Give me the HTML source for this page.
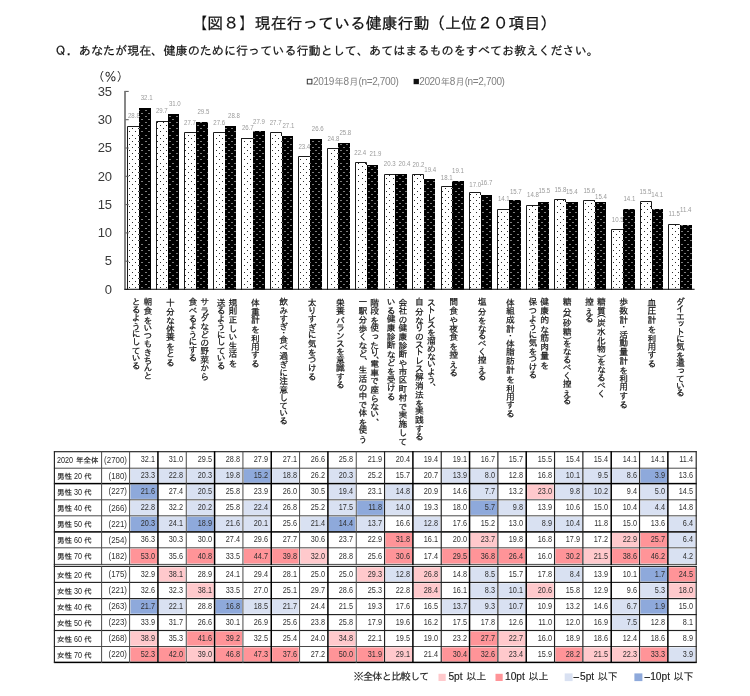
<!DOCTYPE html>
<html lang="ja">
<head>
<meta charset="utf-8">
<title>【図８】現在行っている健康行動（上位２０項目）</title>
<style>
html,body{margin:0;padding:0;background:#fff}
body{width:750px;height:696px;position:relative;overflow:hidden;font-family:"Liberation Sans","IPAGothic",sans-serif;color:#000}
.t{position:absolute;white-space:nowrap;line-height:1;margin:0;padding:0}
svg{position:absolute;left:0;top:0}
svg text{font-family:"Liberation Sans","IPAGothic",sans-serif}
.title{left:0;width:747.6px;text-align:center;top:15.6px;font-size:15.87px;color:#111;-webkit-text-stroke:.25px #111}
.sub{left:54.6px;top:44.7px;font-size:12.1px;color:#111;-webkit-text-stroke:.2px #111}
.pct{left:92.5px;top:71px;font-size:12px;color:#222}
.leg{font-size:9.2px;color:#808080;top:76.6px;line-height:10px}
.leg b{font-weight:normal;font-size:10px;letter-spacing:-.35px}
.leg i{font-style:normal;margin:0 -.1px 0 .6px}
.ax{font-size:13px;color:#3a3a3a;width:20px;text-align:right;left:91.5px;letter-spacing:-.4px}
.xl{position:absolute;writing-mode:vertical-rl;text-orientation:upright;font-size:8.8px;line-height:8.8px;width:8.8px;-webkit-text-stroke:.2px #111;white-space:nowrap;color:#111;top:297.4px}
.xl i{font-style:normal}
.rl{font-size:7.5px;color:#222;left:57.1px;height:9px;line-height:9px;-webkit-text-stroke:.15px #222}
.rl b{font-weight:normal;display:inline-block;font-size:9px;transform:scaleX(.8);vertical-align:top;-webkit-text-stroke:0}
.rn{font-size:9px;color:#333;text-align:right;width:30px;left:97.20px;transform:scaleX(.88);transform-origin:100% 50%}
.c{font-size:9px;color:#303030;text-align:right;width:26px;transform:scaleX(.81);transform-origin:100% 50%}
.n .k{font-size:10px;margin-left:3.6px}
.n .m{display:inline-block;width:6.6px;text-align:center;transform:scaleX(2.1)}
.n{font-size:10.2px;color:#222;top:672.1px;-webkit-text-stroke:.15px #222}

</style>
</head>
<body>
<svg width="750" height="696" viewBox="0 0 750 696">
<defs>
<pattern id="pw" x="129" y="38" width="31" height="81" patternUnits="userSpaceOnUse"><rect width="31" height="81" fill="#fff"/><g fill="#2a2a2a"><rect x="0" y="0" width="1" height="1"/><rect x="3" y="3" width="1" height="1"/><rect x="6" y="0" width="1" height="1"/><rect x="9" y="3" width="1" height="1"/><rect x="12" y="0" width="1" height="1"/><rect x="16" y="3" width="1" height="1"/><rect x="19" y="0" width="1" height="1"/><rect x="22" y="3" width="1" height="1"/><rect x="25" y="0" width="1" height="1"/><rect x="28" y="3" width="1" height="1"/><rect x="0" y="6" width="1" height="1"/><rect x="3" y="9" width="1" height="1"/><rect x="6" y="6" width="1" height="1"/><rect x="9" y="9" width="1" height="1"/><rect x="12" y="6" width="1" height="1"/><rect x="16" y="9" width="1" height="1"/><rect x="19" y="6" width="1" height="1"/><rect x="22" y="9" width="1" height="1"/><rect x="25" y="6" width="1" height="1"/><rect x="28" y="9" width="1" height="1"/><rect x="0" y="12" width="1" height="1"/><rect x="3" y="16" width="1" height="1"/><rect x="6" y="12" width="1" height="1"/><rect x="9" y="16" width="1" height="1"/><rect x="12" y="12" width="1" height="1"/><rect x="16" y="16" width="1" height="1"/><rect x="19" y="12" width="1" height="1"/><rect x="22" y="16" width="1" height="1"/><rect x="25" y="12" width="1" height="1"/><rect x="28" y="16" width="1" height="1"/><rect x="0" y="19" width="1" height="1"/><rect x="3" y="22" width="1" height="1"/><rect x="6" y="19" width="1" height="1"/><rect x="9" y="22" width="1" height="1"/><rect x="12" y="19" width="1" height="1"/><rect x="16" y="22" width="1" height="1"/><rect x="19" y="19" width="1" height="1"/><rect x="22" y="22" width="1" height="1"/><rect x="25" y="19" width="1" height="1"/><rect x="28" y="22" width="1" height="1"/><rect x="0" y="25" width="1" height="1"/><rect x="3" y="28" width="1" height="1"/><rect x="6" y="25" width="1" height="1"/><rect x="9" y="28" width="1" height="1"/><rect x="12" y="25" width="1" height="1"/><rect x="16" y="28" width="1" height="1"/><rect x="19" y="25" width="1" height="1"/><rect x="22" y="28" width="1" height="1"/><rect x="25" y="25" width="1" height="1"/><rect x="28" y="28" width="1" height="1"/><rect x="0" y="31" width="1" height="1"/><rect x="3" y="34" width="1" height="1"/><rect x="6" y="31" width="1" height="1"/><rect x="9" y="34" width="1" height="1"/><rect x="12" y="31" width="1" height="1"/><rect x="16" y="34" width="1" height="1"/><rect x="19" y="31" width="1" height="1"/><rect x="22" y="34" width="1" height="1"/><rect x="25" y="31" width="1" height="1"/><rect x="28" y="34" width="1" height="1"/><rect x="0" y="37" width="1" height="1"/><rect x="3" y="40" width="1" height="1"/><rect x="6" y="37" width="1" height="1"/><rect x="9" y="40" width="1" height="1"/><rect x="12" y="37" width="1" height="1"/><rect x="16" y="40" width="1" height="1"/><rect x="19" y="37" width="1" height="1"/><rect x="22" y="40" width="1" height="1"/><rect x="25" y="37" width="1" height="1"/><rect x="28" y="40" width="1" height="1"/><rect x="0" y="44" width="1" height="1"/><rect x="3" y="47" width="1" height="1"/><rect x="6" y="44" width="1" height="1"/><rect x="9" y="47" width="1" height="1"/><rect x="12" y="44" width="1" height="1"/><rect x="16" y="47" width="1" height="1"/><rect x="19" y="44" width="1" height="1"/><rect x="22" y="47" width="1" height="1"/><rect x="25" y="44" width="1" height="1"/><rect x="28" y="47" width="1" height="1"/><rect x="0" y="50" width="1" height="1"/><rect x="3" y="53" width="1" height="1"/><rect x="6" y="50" width="1" height="1"/><rect x="9" y="53" width="1" height="1"/><rect x="12" y="50" width="1" height="1"/><rect x="16" y="53" width="1" height="1"/><rect x="19" y="50" width="1" height="1"/><rect x="22" y="53" width="1" height="1"/><rect x="25" y="50" width="1" height="1"/><rect x="28" y="53" width="1" height="1"/><rect x="0" y="56" width="1" height="1"/><rect x="3" y="59" width="1" height="1"/><rect x="6" y="56" width="1" height="1"/><rect x="9" y="59" width="1" height="1"/><rect x="12" y="56" width="1" height="1"/><rect x="16" y="59" width="1" height="1"/><rect x="19" y="56" width="1" height="1"/><rect x="22" y="59" width="1" height="1"/><rect x="25" y="56" width="1" height="1"/><rect x="28" y="59" width="1" height="1"/><rect x="0" y="62" width="1" height="1"/><rect x="3" y="65" width="1" height="1"/><rect x="6" y="62" width="1" height="1"/><rect x="9" y="65" width="1" height="1"/><rect x="12" y="62" width="1" height="1"/><rect x="16" y="65" width="1" height="1"/><rect x="19" y="62" width="1" height="1"/><rect x="22" y="65" width="1" height="1"/><rect x="25" y="62" width="1" height="1"/><rect x="28" y="65" width="1" height="1"/><rect x="0" y="69" width="1" height="1"/><rect x="3" y="72" width="1" height="1"/><rect x="6" y="69" width="1" height="1"/><rect x="9" y="72" width="1" height="1"/><rect x="12" y="69" width="1" height="1"/><rect x="16" y="72" width="1" height="1"/><rect x="19" y="69" width="1" height="1"/><rect x="22" y="72" width="1" height="1"/><rect x="25" y="69" width="1" height="1"/><rect x="28" y="72" width="1" height="1"/><rect x="0" y="75" width="1" height="1"/><rect x="3" y="78" width="1" height="1"/><rect x="6" y="75" width="1" height="1"/><rect x="9" y="78" width="1" height="1"/><rect x="12" y="75" width="1" height="1"/><rect x="16" y="78" width="1" height="1"/><rect x="19" y="75" width="1" height="1"/><rect x="22" y="78" width="1" height="1"/><rect x="25" y="75" width="1" height="1"/><rect x="28" y="78" width="1" height="1"/></g></pattern>
<pattern id="pb" x="129" y="38" width="31" height="81" patternUnits="userSpaceOnUse"><rect width="31" height="81" fill="#000"/><g fill="#7c7c7c"><rect x="0" y="0" width="2" height="1"/><rect x="3" y="3" width="2" height="1"/><rect x="6" y="0" width="2" height="1"/><rect x="9" y="3" width="2" height="1"/><rect x="12" y="0" width="2" height="1"/><rect x="16" y="3" width="2" height="1"/><rect x="19" y="0" width="2" height="1"/><rect x="22" y="3" width="2" height="1"/><rect x="25" y="0" width="2" height="1"/><rect x="28" y="3" width="2" height="1"/><rect x="0" y="6" width="2" height="1"/><rect x="3" y="9" width="2" height="1"/><rect x="6" y="6" width="2" height="1"/><rect x="9" y="9" width="2" height="1"/><rect x="12" y="6" width="2" height="1"/><rect x="16" y="9" width="2" height="1"/><rect x="19" y="6" width="2" height="1"/><rect x="22" y="9" width="2" height="1"/><rect x="25" y="6" width="2" height="1"/><rect x="28" y="9" width="2" height="1"/><rect x="0" y="12" width="2" height="1"/><rect x="3" y="16" width="2" height="1"/><rect x="6" y="12" width="2" height="1"/><rect x="9" y="16" width="2" height="1"/><rect x="12" y="12" width="2" height="1"/><rect x="16" y="16" width="2" height="1"/><rect x="19" y="12" width="2" height="1"/><rect x="22" y="16" width="2" height="1"/><rect x="25" y="12" width="2" height="1"/><rect x="28" y="16" width="2" height="1"/><rect x="0" y="19" width="2" height="1"/><rect x="3" y="22" width="2" height="1"/><rect x="6" y="19" width="2" height="1"/><rect x="9" y="22" width="2" height="1"/><rect x="12" y="19" width="2" height="1"/><rect x="16" y="22" width="2" height="1"/><rect x="19" y="19" width="2" height="1"/><rect x="22" y="22" width="2" height="1"/><rect x="25" y="19" width="2" height="1"/><rect x="28" y="22" width="2" height="1"/><rect x="0" y="25" width="2" height="1"/><rect x="3" y="28" width="2" height="1"/><rect x="6" y="25" width="2" height="1"/><rect x="9" y="28" width="2" height="1"/><rect x="12" y="25" width="2" height="1"/><rect x="16" y="28" width="2" height="1"/><rect x="19" y="25" width="2" height="1"/><rect x="22" y="28" width="2" height="1"/><rect x="25" y="25" width="2" height="1"/><rect x="28" y="28" width="2" height="1"/><rect x="0" y="31" width="2" height="1"/><rect x="3" y="34" width="2" height="1"/><rect x="6" y="31" width="2" height="1"/><rect x="9" y="34" width="2" height="1"/><rect x="12" y="31" width="2" height="1"/><rect x="16" y="34" width="2" height="1"/><rect x="19" y="31" width="2" height="1"/><rect x="22" y="34" width="2" height="1"/><rect x="25" y="31" width="2" height="1"/><rect x="28" y="34" width="2" height="1"/><rect x="0" y="37" width="2" height="1"/><rect x="3" y="40" width="2" height="1"/><rect x="6" y="37" width="2" height="1"/><rect x="9" y="40" width="2" height="1"/><rect x="12" y="37" width="2" height="1"/><rect x="16" y="40" width="2" height="1"/><rect x="19" y="37" width="2" height="1"/><rect x="22" y="40" width="2" height="1"/><rect x="25" y="37" width="2" height="1"/><rect x="28" y="40" width="2" height="1"/><rect x="0" y="44" width="2" height="1"/><rect x="3" y="47" width="2" height="1"/><rect x="6" y="44" width="2" height="1"/><rect x="9" y="47" width="2" height="1"/><rect x="12" y="44" width="2" height="1"/><rect x="16" y="47" width="2" height="1"/><rect x="19" y="44" width="2" height="1"/><rect x="22" y="47" width="2" height="1"/><rect x="25" y="44" width="2" height="1"/><rect x="28" y="47" width="2" height="1"/><rect x="0" y="50" width="2" height="1"/><rect x="3" y="53" width="2" height="1"/><rect x="6" y="50" width="2" height="1"/><rect x="9" y="53" width="2" height="1"/><rect x="12" y="50" width="2" height="1"/><rect x="16" y="53" width="2" height="1"/><rect x="19" y="50" width="2" height="1"/><rect x="22" y="53" width="2" height="1"/><rect x="25" y="50" width="2" height="1"/><rect x="28" y="53" width="2" height="1"/><rect x="0" y="56" width="2" height="1"/><rect x="3" y="59" width="2" height="1"/><rect x="6" y="56" width="2" height="1"/><rect x="9" y="59" width="2" height="1"/><rect x="12" y="56" width="2" height="1"/><rect x="16" y="59" width="2" height="1"/><rect x="19" y="56" width="2" height="1"/><rect x="22" y="59" width="2" height="1"/><rect x="25" y="56" width="2" height="1"/><rect x="28" y="59" width="2" height="1"/><rect x="0" y="62" width="2" height="1"/><rect x="3" y="65" width="2" height="1"/><rect x="6" y="62" width="2" height="1"/><rect x="9" y="65" width="2" height="1"/><rect x="12" y="62" width="2" height="1"/><rect x="16" y="65" width="2" height="1"/><rect x="19" y="62" width="2" height="1"/><rect x="22" y="65" width="2" height="1"/><rect x="25" y="62" width="2" height="1"/><rect x="28" y="65" width="2" height="1"/><rect x="0" y="69" width="2" height="1"/><rect x="3" y="72" width="2" height="1"/><rect x="6" y="69" width="2" height="1"/><rect x="9" y="72" width="2" height="1"/><rect x="12" y="69" width="2" height="1"/><rect x="16" y="72" width="2" height="1"/><rect x="19" y="69" width="2" height="1"/><rect x="22" y="72" width="2" height="1"/><rect x="25" y="69" width="2" height="1"/><rect x="28" y="72" width="2" height="1"/><rect x="0" y="75" width="2" height="1"/><rect x="3" y="78" width="2" height="1"/><rect x="6" y="75" width="2" height="1"/><rect x="9" y="78" width="2" height="1"/><rect x="12" y="75" width="2" height="1"/><rect x="16" y="78" width="2" height="1"/><rect x="19" y="75" width="2" height="1"/><rect x="22" y="78" width="2" height="1"/><rect x="25" y="75" width="2" height="1"/><rect x="28" y="78" width="2" height="1"/></g></pattern>
</defs>
<text transform="translate(133.9 118.2) scale(.87 1)" font-size="7" fill="#9a9a9a" text-anchor="middle">28.8</text>
<text transform="translate(146.6 99.8) scale(.87 1)" font-size="7" fill="#9a9a9a" text-anchor="middle">32.1</text>
<text transform="translate(161.8 113.1) scale(.87 1)" font-size="7" fill="#9a9a9a" text-anchor="middle">29.7</text>
<text transform="translate(174.8 106.2) scale(.87 1)" font-size="7" fill="#9a9a9a" text-anchor="middle">31.0</text>
<text transform="translate(190.0 124.8) scale(.87 1)" font-size="7" fill="#9a9a9a" text-anchor="middle">27.7</text>
<text transform="translate(203.4 114.4) scale(.87 1)" font-size="7" fill="#9a9a9a" text-anchor="middle">29.5</text>
<text transform="translate(219.2 125.4) scale(.87 1)" font-size="7" fill="#9a9a9a" text-anchor="middle">27.6</text>
<text transform="translate(234.0 118.2) scale(.87 1)" font-size="7" fill="#9a9a9a" text-anchor="middle">28.8</text>
<text transform="translate(247.8 130.0) scale(.87 1)" font-size="7" fill="#9a9a9a" text-anchor="middle">26.7</text>
<text transform="translate(259.0 123.6) scale(.87 1)" font-size="7" fill="#9a9a9a" text-anchor="middle">27.9</text>
<text transform="translate(275.6 124.6) scale(.87 1)" font-size="7" fill="#9a9a9a" text-anchor="middle">27.7</text>
<text transform="translate(288.4 128.1) scale(.87 1)" font-size="7" fill="#9a9a9a" text-anchor="middle">27.1</text>
<text transform="translate(304.3 149.2) scale(.87 1)" font-size="7" fill="#9a9a9a" text-anchor="middle">23.4</text>
<text transform="translate(317.7 131.0) scale(.87 1)" font-size="7" fill="#9a9a9a" text-anchor="middle">26.6</text>
<text transform="translate(333.4 140.9) scale(.87 1)" font-size="7" fill="#9a9a9a" text-anchor="middle">24.8</text>
<text transform="translate(345.3 135.2) scale(.87 1)" font-size="7" fill="#9a9a9a" text-anchor="middle">25.8</text>
<text transform="translate(360.2 154.7) scale(.87 1)" font-size="7" fill="#9a9a9a" text-anchor="middle">22.4</text>
<text transform="translate(375.5 156.0) scale(.87 1)" font-size="7" fill="#9a9a9a" text-anchor="middle">21.9</text>
<text transform="translate(389.7 166.4) scale(.87 1)" font-size="7" fill="#9a9a9a" text-anchor="middle">20.3</text>
<text transform="translate(404.5 166.0) scale(.87 1)" font-size="7" fill="#9a9a9a" text-anchor="middle">20.4</text>
<text transform="translate(418.4 167.0) scale(.87 1)" font-size="7" fill="#9a9a9a" text-anchor="middle">20.2</text>
<text transform="translate(430.2 171.5) scale(.87 1)" font-size="7" fill="#9a9a9a" text-anchor="middle">19.4</text>
<text transform="translate(446.7 180.2) scale(.87 1)" font-size="7" fill="#9a9a9a" text-anchor="middle">18.1</text>
<text transform="translate(458.0 173.3) scale(.87 1)" font-size="7" fill="#9a9a9a" text-anchor="middle">19.1</text>
<text transform="translate(475.2 186.5) scale(.87 1)" font-size="7" fill="#9a9a9a" text-anchor="middle">17.0</text>
<text transform="translate(486.4 185.4) scale(.87 1)" font-size="7" fill="#9a9a9a" text-anchor="middle">16.7</text>
<text transform="translate(503.8 201.4) scale(.87 1)" font-size="7" fill="#9a9a9a" text-anchor="middle">14.1</text>
<text transform="translate(515.8 194.2) scale(.87 1)" font-size="7" fill="#9a9a9a" text-anchor="middle">15.7</text>
<text transform="translate(533.0 197.3) scale(.87 1)" font-size="7" fill="#9a9a9a" text-anchor="middle">14.8</text>
<text transform="translate(544.3 193.3) scale(.87 1)" font-size="7" fill="#9a9a9a" text-anchor="middle">15.5</text>
<text transform="translate(560.4 191.7) scale(.87 1)" font-size="7" fill="#9a9a9a" text-anchor="middle">15.8</text>
<text transform="translate(571.8 193.8) scale(.87 1)" font-size="7" fill="#9a9a9a" text-anchor="middle">15.4</text>
<text transform="translate(589.3 192.9) scale(.87 1)" font-size="7" fill="#9a9a9a" text-anchor="middle">15.6</text>
<text transform="translate(601.0 198.6) scale(.87 1)" font-size="7" fill="#9a9a9a" text-anchor="middle">15.4</text>
<text transform="translate(617.7 221.8) scale(.87 1)" font-size="7" fill="#9a9a9a" text-anchor="middle">10.5</text>
<text transform="translate(629.4 201.4) scale(.87 1)" font-size="7" fill="#9a9a9a" text-anchor="middle">14.1</text>
<text transform="translate(645.5 193.7) scale(.87 1)" font-size="7" fill="#9a9a9a" text-anchor="middle">15.5</text>
<text transform="translate(657.2 197.2) scale(.87 1)" font-size="7" fill="#9a9a9a" text-anchor="middle">14.1</text>
<text transform="translate(674.2 216.1) scale(.87 1)" font-size="7" fill="#9a9a9a" text-anchor="middle">11.5</text>
<text transform="translate(685.7 212.2) scale(.87 1)" font-size="7" fill="#9a9a9a" text-anchor="middle">11.4</text>
<rect x="127" y="126" width="12" height="164" fill="url(#pw)"/>
<polyline points="127.5,290 127.5,126.5 139,126.5" fill="none" stroke="#1a1a1a" stroke-width="1"/>
<rect x="139" y="108" width="12" height="182" fill="url(#pb)"/>
<rect x="156" y="121" width="12" height="169" fill="url(#pw)"/>
<polyline points="156.5,290 156.5,121.5 168,121.5" fill="none" stroke="#1a1a1a" stroke-width="1"/>
<rect x="168" y="114" width="11" height="176" fill="url(#pb)"/>
<rect x="184" y="132" width="12" height="158" fill="url(#pw)"/>
<polyline points="184.5,290 184.5,132.5 196,132.5" fill="none" stroke="#1a1a1a" stroke-width="1"/>
<rect x="196" y="122" width="12" height="168" fill="url(#pb)"/>
<rect x="213" y="132" width="12" height="158" fill="url(#pw)"/>
<polyline points="213.5,290 213.5,132.5 225,132.5" fill="none" stroke="#1a1a1a" stroke-width="1"/>
<rect x="225" y="126" width="11" height="164" fill="url(#pb)"/>
<rect x="241" y="138" width="12" height="152" fill="url(#pw)"/>
<polyline points="241.5,290 241.5,138.5 253,138.5" fill="none" stroke="#1a1a1a" stroke-width="1"/>
<rect x="253" y="131" width="12" height="159" fill="url(#pb)"/>
<rect x="270" y="132" width="12" height="158" fill="url(#pw)"/>
<polyline points="270.5,290 270.5,132.5 281.5,132.5 281.5,136" fill="none" stroke="#1a1a1a" stroke-width="1"/>
<rect x="282" y="136" width="11" height="154" fill="url(#pb)"/>
<rect x="298" y="156" width="12" height="134" fill="url(#pw)"/>
<polyline points="298.5,290 298.5,156.5 310,156.5" fill="none" stroke="#1a1a1a" stroke-width="1"/>
<rect x="310" y="139" width="12" height="151" fill="url(#pb)"/>
<rect x="327" y="148" width="11" height="142" fill="url(#pw)"/>
<polyline points="327.5,290 327.5,148.5 338,148.5" fill="none" stroke="#1a1a1a" stroke-width="1"/>
<rect x="338" y="143" width="12" height="147" fill="url(#pb)"/>
<rect x="355" y="162" width="12" height="128" fill="url(#pw)"/>
<polyline points="355.5,290 355.5,162.5 366.5,162.5 366.5,165" fill="none" stroke="#1a1a1a" stroke-width="1"/>
<rect x="367" y="165" width="11" height="125" fill="url(#pb)"/>
<rect x="384" y="174" width="11" height="116" fill="url(#pw)"/>
<polyline points="384.5,290 384.5,174.5 395,174.5" fill="none" stroke="#1a1a1a" stroke-width="1"/>
<rect x="395" y="174" width="12" height="116" fill="url(#pb)"/>
<rect x="412" y="174" width="12" height="116" fill="url(#pw)"/>
<polyline points="412.5,290 412.5,174.5 423.5,174.5 423.5,179" fill="none" stroke="#1a1a1a" stroke-width="1"/>
<rect x="424" y="179" width="11" height="111" fill="url(#pb)"/>
<rect x="441" y="186" width="11" height="104" fill="url(#pw)"/>
<polyline points="441.5,290 441.5,186.5 452,186.5" fill="none" stroke="#1a1a1a" stroke-width="1"/>
<rect x="452" y="181" width="12" height="109" fill="url(#pb)"/>
<rect x="469" y="192" width="12" height="98" fill="url(#pw)"/>
<polyline points="469.5,290 469.5,192.5 480.5,192.5 480.5,195" fill="none" stroke="#1a1a1a" stroke-width="1"/>
<rect x="481" y="195" width="11" height="95" fill="url(#pb)"/>
<rect x="497" y="209" width="12" height="81" fill="url(#pw)"/>
<polyline points="497.5,290 497.5,209.5 509,209.5" fill="none" stroke="#1a1a1a" stroke-width="1"/>
<rect x="509" y="200" width="12" height="90" fill="url(#pb)"/>
<rect x="526" y="205" width="12" height="85" fill="url(#pw)"/>
<polyline points="526.5,290 526.5,205.5 538,205.5" fill="none" stroke="#1a1a1a" stroke-width="1"/>
<rect x="538" y="202" width="11" height="88" fill="url(#pb)"/>
<rect x="554" y="199" width="12" height="91" fill="url(#pw)"/>
<polyline points="554.5,290 554.5,199.5 565.5,199.5 565.5,202" fill="none" stroke="#1a1a1a" stroke-width="1"/>
<rect x="566" y="202" width="12" height="88" fill="url(#pb)"/>
<rect x="583" y="200" width="12" height="90" fill="url(#pw)"/>
<polyline points="583.5,290 583.5,200.5 594.5,200.5 594.5,202" fill="none" stroke="#1a1a1a" stroke-width="1"/>
<rect x="595" y="202" width="11" height="88" fill="url(#pb)"/>
<rect x="611" y="229" width="12" height="61" fill="url(#pw)"/>
<polyline points="611.5,290 611.5,229.5 623,229.5" fill="none" stroke="#1a1a1a" stroke-width="1"/>
<rect x="623" y="209" width="12" height="81" fill="url(#pb)"/>
<rect x="640" y="201" width="12" height="89" fill="url(#pw)"/>
<polyline points="640.5,290 640.5,201.5 651.5,201.5 651.5,209" fill="none" stroke="#1a1a1a" stroke-width="1"/>
<rect x="652" y="209" width="11" height="81" fill="url(#pb)"/>
<rect x="668" y="224" width="12" height="66" fill="url(#pw)"/>
<polyline points="668.5,290 668.5,224.5 679.5,224.5 679.5,225" fill="none" stroke="#1a1a1a" stroke-width="1"/>
<rect x="680" y="225" width="12" height="65" fill="url(#pb)"/>
<rect x="124.10" y="90.90" width="1.8" height="199.10" fill="#7a7a7a"/>
<rect x="125.50" y="289.00" width="3.2" height="1" fill="#555"/>
<rect x="125.50" y="260.70" width="3.2" height="1" fill="#555"/>
<rect x="125.50" y="232.40" width="3.2" height="1" fill="#555"/>
<rect x="125.50" y="204.10" width="3.2" height="1" fill="#555"/>
<rect x="125.50" y="175.80" width="3.2" height="1" fill="#555"/>
<rect x="125.50" y="147.50" width="3.2" height="1" fill="#555"/>
<rect x="125.50" y="119.20" width="3.2" height="1" fill="#555"/>
<rect x="125.50" y="90.90" width="3.2" height="1" fill="#555"/>
<rect x="124.50" y="288.75" width="570.10" height="1.1" fill="#1a1a1a"/>
<rect x="307.3" y="79.3" width="4.6" height="4.6" fill="#fff" stroke="#333" stroke-width="1"/>
<rect x="413.6" y="78.9" width="5.3" height="5.3" fill="#111"/>
<rect x="130.50" y="469.10" width="26.53" height="13.60" fill="#d9e1f2"/>
<rect x="158.83" y="469.10" width="26.53" height="13.60" fill="#d9e1f2"/>
<rect x="187.16" y="469.10" width="26.53" height="13.60" fill="#d9e1f2"/>
<rect x="215.49" y="469.10" width="26.53" height="13.60" fill="#d9e1f2"/>
<rect x="243.82" y="469.10" width="26.53" height="13.60" fill="#8ea9db"/>
<rect x="272.15" y="469.10" width="26.53" height="13.60" fill="#d9e1f2"/>
<rect x="328.81" y="469.10" width="26.53" height="13.60" fill="#d9e1f2"/>
<rect x="442.13" y="469.10" width="26.53" height="13.60" fill="#d9e1f2"/>
<rect x="470.46" y="469.10" width="26.53" height="13.60" fill="#d9e1f2"/>
<rect x="555.45" y="469.10" width="26.53" height="13.60" fill="#d9e1f2"/>
<rect x="583.78" y="469.10" width="26.53" height="13.60" fill="#d9e1f2"/>
<rect x="612.11" y="469.10" width="26.53" height="13.60" fill="#d9e1f2"/>
<rect x="640.44" y="469.10" width="26.53" height="13.60" fill="#8ea9db"/>
<rect x="130.50" y="484.50" width="26.53" height="14.40" fill="#8ea9db"/>
<rect x="187.16" y="484.50" width="26.53" height="14.40" fill="#d9e1f2"/>
<rect x="328.81" y="484.50" width="26.53" height="14.40" fill="#d9e1f2"/>
<rect x="385.47" y="484.50" width="26.53" height="14.40" fill="#d9e1f2"/>
<rect x="470.46" y="484.50" width="26.53" height="14.40" fill="#d9e1f2"/>
<rect x="527.12" y="484.50" width="26.53" height="14.40" fill="#ffc9cc"/>
<rect x="555.45" y="484.50" width="26.53" height="14.40" fill="#d9e1f2"/>
<rect x="583.78" y="484.50" width="26.53" height="14.40" fill="#d9e1f2"/>
<rect x="640.44" y="484.50" width="26.53" height="14.40" fill="#d9e1f2"/>
<rect x="130.50" y="500.70" width="26.53" height="14.20" fill="#d9e1f2"/>
<rect x="187.16" y="500.70" width="26.53" height="14.20" fill="#d9e1f2"/>
<rect x="243.82" y="500.70" width="26.53" height="14.20" fill="#d9e1f2"/>
<rect x="328.81" y="500.70" width="26.53" height="14.20" fill="#d9e1f2"/>
<rect x="357.14" y="500.70" width="26.53" height="14.20" fill="#8ea9db"/>
<rect x="385.47" y="500.70" width="26.53" height="14.20" fill="#d9e1f2"/>
<rect x="470.46" y="500.70" width="26.53" height="14.20" fill="#8ea9db"/>
<rect x="498.79" y="500.70" width="26.53" height="14.20" fill="#d9e1f2"/>
<rect x="640.44" y="500.70" width="26.53" height="14.20" fill="#d9e1f2"/>
<rect x="130.50" y="516.70" width="26.53" height="14.30" fill="#8ea9db"/>
<rect x="158.83" y="516.70" width="26.53" height="14.30" fill="#d9e1f2"/>
<rect x="187.16" y="516.70" width="26.53" height="14.30" fill="#8ea9db"/>
<rect x="215.49" y="516.70" width="26.53" height="14.30" fill="#d9e1f2"/>
<rect x="243.82" y="516.70" width="26.53" height="14.30" fill="#d9e1f2"/>
<rect x="300.48" y="516.70" width="26.53" height="14.30" fill="#d9e1f2"/>
<rect x="328.81" y="516.70" width="26.53" height="14.30" fill="#8ea9db"/>
<rect x="357.14" y="516.70" width="26.53" height="14.30" fill="#d9e1f2"/>
<rect x="413.80" y="516.70" width="26.53" height="14.30" fill="#d9e1f2"/>
<rect x="527.12" y="516.70" width="26.53" height="14.30" fill="#d9e1f2"/>
<rect x="555.45" y="516.70" width="26.53" height="14.30" fill="#d9e1f2"/>
<rect x="668.77" y="516.70" width="26.53" height="14.30" fill="#d9e1f2"/>
<rect x="385.47" y="532.80" width="26.53" height="14.10" fill="#ff9498"/>
<rect x="470.46" y="532.80" width="26.53" height="14.10" fill="#ffc9cc"/>
<rect x="612.11" y="532.80" width="26.53" height="14.10" fill="#ffc9cc"/>
<rect x="640.44" y="532.80" width="26.53" height="14.10" fill="#ff9498"/>
<rect x="668.77" y="532.80" width="26.53" height="14.10" fill="#d9e1f2"/>
<rect x="130.50" y="548.70" width="26.53" height="14.80" fill="#ff9498"/>
<rect x="187.16" y="548.70" width="26.53" height="14.80" fill="#ff9498"/>
<rect x="243.82" y="548.70" width="26.53" height="14.80" fill="#ff9498"/>
<rect x="272.15" y="548.70" width="26.53" height="14.80" fill="#ff9498"/>
<rect x="300.48" y="548.70" width="26.53" height="14.80" fill="#ffc9cc"/>
<rect x="385.47" y="548.70" width="26.53" height="14.80" fill="#ff9498"/>
<rect x="442.13" y="548.70" width="26.53" height="14.80" fill="#ff9498"/>
<rect x="470.46" y="548.70" width="26.53" height="14.80" fill="#ff9498"/>
<rect x="498.79" y="548.70" width="26.53" height="14.80" fill="#ff9498"/>
<rect x="555.45" y="548.70" width="26.53" height="14.80" fill="#ff9498"/>
<rect x="583.78" y="548.70" width="26.53" height="14.80" fill="#ffc9cc"/>
<rect x="612.11" y="548.70" width="26.53" height="14.80" fill="#ff9498"/>
<rect x="640.44" y="548.70" width="26.53" height="14.80" fill="#ff9498"/>
<rect x="668.77" y="548.70" width="26.53" height="14.80" fill="#d9e1f2"/>
<rect x="158.83" y="567.30" width="26.53" height="14.20" fill="#ffc9cc"/>
<rect x="357.14" y="567.30" width="26.53" height="14.20" fill="#ffc9cc"/>
<rect x="385.47" y="567.30" width="26.53" height="14.20" fill="#d9e1f2"/>
<rect x="413.80" y="567.30" width="26.53" height="14.20" fill="#ffc9cc"/>
<rect x="470.46" y="567.30" width="26.53" height="14.20" fill="#d9e1f2"/>
<rect x="555.45" y="567.30" width="26.53" height="14.20" fill="#d9e1f2"/>
<rect x="640.44" y="567.30" width="26.53" height="14.20" fill="#8ea9db"/>
<rect x="668.77" y="567.30" width="26.53" height="14.20" fill="#ff9498"/>
<rect x="187.16" y="583.30" width="26.53" height="14.40" fill="#ffc9cc"/>
<rect x="413.80" y="583.30" width="26.53" height="14.40" fill="#ffc9cc"/>
<rect x="470.46" y="583.30" width="26.53" height="14.40" fill="#d9e1f2"/>
<rect x="498.79" y="583.30" width="26.53" height="14.40" fill="#d9e1f2"/>
<rect x="527.12" y="583.30" width="26.53" height="14.40" fill="#ffc9cc"/>
<rect x="640.44" y="583.30" width="26.53" height="14.40" fill="#d9e1f2"/>
<rect x="668.77" y="583.30" width="26.53" height="14.40" fill="#ffc9cc"/>
<rect x="130.50" y="599.50" width="26.53" height="14.20" fill="#8ea9db"/>
<rect x="158.83" y="599.50" width="26.53" height="14.20" fill="#d9e1f2"/>
<rect x="215.49" y="599.50" width="26.53" height="14.20" fill="#8ea9db"/>
<rect x="243.82" y="599.50" width="26.53" height="14.20" fill="#d9e1f2"/>
<rect x="272.15" y="599.50" width="26.53" height="14.20" fill="#d9e1f2"/>
<rect x="442.13" y="599.50" width="26.53" height="14.20" fill="#d9e1f2"/>
<rect x="470.46" y="599.50" width="26.53" height="14.20" fill="#d9e1f2"/>
<rect x="498.79" y="599.50" width="26.53" height="14.20" fill="#d9e1f2"/>
<rect x="612.11" y="599.50" width="26.53" height="14.20" fill="#d9e1f2"/>
<rect x="640.44" y="599.50" width="26.53" height="14.20" fill="#8ea9db"/>
<rect x="612.11" y="615.50" width="26.53" height="14.10" fill="#d9e1f2"/>
<rect x="130.50" y="631.40" width="26.53" height="14.20" fill="#ffc9cc"/>
<rect x="187.16" y="631.40" width="26.53" height="14.20" fill="#ff9498"/>
<rect x="215.49" y="631.40" width="26.53" height="14.20" fill="#ff9498"/>
<rect x="328.81" y="631.40" width="26.53" height="14.20" fill="#ffc9cc"/>
<rect x="470.46" y="631.40" width="26.53" height="14.20" fill="#ff9498"/>
<rect x="498.79" y="631.40" width="26.53" height="14.20" fill="#ffc9cc"/>
<rect x="130.50" y="647.40" width="26.53" height="14.10" fill="#ff9498"/>
<rect x="158.83" y="647.40" width="26.53" height="14.10" fill="#ff9498"/>
<rect x="187.16" y="647.40" width="26.53" height="14.10" fill="#ffc9cc"/>
<rect x="215.49" y="647.40" width="26.53" height="14.10" fill="#ff9498"/>
<rect x="243.82" y="647.40" width="26.53" height="14.10" fill="#ff9498"/>
<rect x="272.15" y="647.40" width="26.53" height="14.10" fill="#ff9498"/>
<rect x="328.81" y="647.40" width="26.53" height="14.10" fill="#ff9498"/>
<rect x="357.14" y="647.40" width="26.53" height="14.10" fill="#ff9498"/>
<rect x="385.47" y="647.40" width="26.53" height="14.10" fill="#ffc9cc"/>
<rect x="442.13" y="647.40" width="26.53" height="14.10" fill="#ff9498"/>
<rect x="470.46" y="647.40" width="26.53" height="14.10" fill="#ff9498"/>
<rect x="498.79" y="647.40" width="26.53" height="14.10" fill="#ffc9cc"/>
<rect x="555.45" y="647.40" width="26.53" height="14.10" fill="#ff9498"/>
<rect x="583.78" y="647.40" width="26.53" height="14.10" fill="#ffc9cc"/>
<rect x="612.11" y="647.40" width="26.53" height="14.10" fill="#ffc9cc"/>
<rect x="640.44" y="647.40" width="26.53" height="14.10" fill="#ff9498"/>
<rect x="668.77" y="647.40" width="26.53" height="14.10" fill="#d9e1f2"/>
<rect x="53.90" y="451.12" width="642.80" height="1.15" fill="#222"/>
<rect x="53.90" y="467.70" width="642.80" height="1.00" fill="#4a4a4a"/>
<rect x="53.90" y="482.85" width="642.80" height="1.50" fill="#000"/>
<rect x="53.90" y="499.30" width="642.80" height="1.00" fill="#4a4a4a"/>
<rect x="53.90" y="515.30" width="642.80" height="1.00" fill="#4a4a4a"/>
<rect x="53.90" y="531.15" width="642.80" height="1.50" fill="#000"/>
<rect x="53.90" y="547.30" width="642.80" height="1.00" fill="#4a4a4a"/>
<rect x="53.90" y="563.90" width="642.80" height="1.00" fill="#4a4a4a"/>
<rect x="53.90" y="565.82" width="642.80" height="1.15" fill="#222"/>
<rect x="53.90" y="581.82" width="642.80" height="1.15" fill="#222"/>
<rect x="53.90" y="598.02" width="642.80" height="1.15" fill="#222"/>
<rect x="53.90" y="614.02" width="642.80" height="1.15" fill="#222"/>
<rect x="53.90" y="629.92" width="642.80" height="1.15" fill="#222"/>
<rect x="53.90" y="646.00" width="642.80" height="1.00" fill="#4a4a4a"/>
<rect x="53.90" y="661.65" width="642.80" height="1.50" fill="#000"/>
<rect x="53.82" y="451.20" width="1.15" height="113.70" fill="#222"/>
<rect x="53.82" y="565.90" width="1.15" height="97.10" fill="#222"/>
<rect x="101.10" y="451.20" width="1.00" height="113.70" fill="#4a4a4a"/>
<rect x="101.10" y="565.90" width="1.00" height="97.10" fill="#4a4a4a"/>
<rect x="129.10" y="451.20" width="1.00" height="113.70" fill="#4a4a4a"/>
<rect x="129.10" y="565.90" width="1.00" height="97.10" fill="#4a4a4a"/>
<rect x="157.18" y="451.20" width="1.50" height="113.70" fill="#000"/>
<rect x="157.18" y="565.90" width="1.50" height="97.10" fill="#000"/>
<rect x="185.76" y="451.20" width="1.00" height="113.70" fill="#4a4a4a"/>
<rect x="185.76" y="565.90" width="1.00" height="97.10" fill="#4a4a4a"/>
<rect x="213.84" y="451.20" width="1.50" height="113.70" fill="#000"/>
<rect x="213.84" y="565.90" width="1.50" height="97.10" fill="#000"/>
<rect x="242.42" y="451.20" width="1.00" height="113.70" fill="#4a4a4a"/>
<rect x="242.42" y="565.90" width="1.00" height="97.10" fill="#4a4a4a"/>
<rect x="270.50" y="451.20" width="1.50" height="113.70" fill="#000"/>
<rect x="270.50" y="565.90" width="1.50" height="97.10" fill="#000"/>
<rect x="299.08" y="451.20" width="1.00" height="113.70" fill="#4a4a4a"/>
<rect x="299.08" y="565.90" width="1.00" height="97.10" fill="#4a4a4a"/>
<rect x="327.16" y="451.20" width="1.50" height="113.70" fill="#000"/>
<rect x="327.16" y="565.90" width="1.50" height="97.10" fill="#000"/>
<rect x="355.74" y="451.20" width="1.00" height="113.70" fill="#4a4a4a"/>
<rect x="355.74" y="565.90" width="1.00" height="97.10" fill="#4a4a4a"/>
<rect x="383.99" y="451.20" width="1.15" height="113.70" fill="#222"/>
<rect x="383.99" y="565.90" width="1.15" height="97.10" fill="#222"/>
<rect x="412.15" y="451.20" width="1.50" height="113.70" fill="#000"/>
<rect x="412.15" y="565.90" width="1.50" height="97.10" fill="#000"/>
<rect x="440.66" y="451.20" width="1.15" height="113.70" fill="#222"/>
<rect x="440.66" y="565.90" width="1.15" height="97.10" fill="#222"/>
<rect x="468.81" y="451.20" width="1.50" height="113.70" fill="#000"/>
<rect x="468.81" y="565.90" width="1.50" height="97.10" fill="#000"/>
<rect x="497.31" y="451.20" width="1.15" height="113.70" fill="#222"/>
<rect x="497.31" y="565.90" width="1.15" height="97.10" fill="#222"/>
<rect x="525.47" y="451.20" width="1.50" height="113.70" fill="#000"/>
<rect x="525.47" y="565.90" width="1.50" height="97.10" fill="#000"/>
<rect x="553.97" y="451.20" width="1.15" height="113.70" fill="#222"/>
<rect x="553.97" y="565.90" width="1.15" height="97.10" fill="#222"/>
<rect x="582.30" y="451.20" width="1.15" height="113.70" fill="#222"/>
<rect x="582.30" y="565.90" width="1.15" height="97.10" fill="#222"/>
<rect x="610.46" y="451.20" width="1.50" height="113.70" fill="#000"/>
<rect x="610.46" y="565.90" width="1.50" height="97.10" fill="#000"/>
<rect x="638.96" y="451.20" width="1.15" height="113.70" fill="#222"/>
<rect x="638.96" y="565.90" width="1.15" height="97.10" fill="#222"/>
<rect x="667.12" y="451.20" width="1.50" height="113.70" fill="#000"/>
<rect x="667.12" y="565.90" width="1.50" height="97.10" fill="#000"/>
<rect x="695.62" y="451.20" width="1.15" height="113.70" fill="#222"/>
<rect x="695.62" y="565.90" width="1.15" height="97.10" fill="#222"/>
<rect x="53.82" y="564.40" width="1.15" height="2.00" fill="#222"/>
<rect x="438.5" y="673.8" width="7.2" height="7.2" fill="#ffc9cc"/>
<rect x="495.5" y="673.8" width="7.2" height="7.2" fill="#ff9498"/>
<rect x="564.7" y="673.4" width="7.9" height="7.7" fill="#d9e1f2"/>
<rect x="634.4" y="673.4" width="8" height="7.7" fill="#8ea9db"/>
</svg>
<div class="t title">【図８】現在行っている健康行動（上位２０項目）</div>
<div class="t sub">Ｑ．あなたが現在、健康のために行っている行動として、あてはまるものをすべてお教えください。</div>
<div class="t pct">（％）</div>
<div class="t leg" style="left:313px"><b>2019</b><i>年</i><b>8</b><i>月</i><b>(n=2,700)</b></div>
<div class="t leg" style="left:419.2px"><b>2020</b><i>年</i><b>8</b><i>月</i><b>(n=2,700)</b></div>
<div class="t ax" style="top:282.7px">0</div>
<div class="t ax" style="top:254.4px">5</div>
<div class="t ax" style="top:226.1px">10</div>
<div class="t ax" style="top:197.8px">15</div>
<div class="t ax" style="top:169.5px">20</div>
<div class="t ax" style="top:141.2px">25</div>
<div class="t ax" style="top:112.9px">30</div>
<div class="t ax" style="top:84.6px">35</div>
<div class="xl" style="left:142.7px">朝食<i style="letter-spacing:-0.79px;margin-top:-0.39px;margin-bottom:0.39px">をいつもきちんと</i></div>
<div class="xl" style="left:130.9px"><i style="letter-spacing:-0.79px;margin-top:-0.39px;margin-bottom:0.39px">とるようにしている</i></div>
<div class="xl" style="left:165.1px">十分<i style="letter-spacing:-0.37px;margin-top:-0.19px;margin-bottom:0.19px">な</i>休養<i style="letter-spacing:-0.37px;margin-top:-0.19px;margin-bottom:0.19px">をとる</i></div>
<div class="xl" style="left:199.4px"><i style="letter-spacing:-0.69px;margin-top:-0.34px;margin-bottom:0.34px">サラダなどの</i>野菜<i style="letter-spacing:-0.69px;margin-top:-0.34px;margin-bottom:0.34px">から</i></div>
<div class="xl" style="left:187.6px">食<i style="letter-spacing:-1.01px;margin-top:-0.51px;margin-bottom:0.51px">べるようにする</i></div>
<div class="xl" style="left:227.7px">規則正<i style="letter-spacing:-0.50px;margin-top:-0.25px;margin-bottom:0.25px">しい</i>生活<i style="letter-spacing:-0.50px;margin-top:-0.25px;margin-bottom:0.25px">を</i></div>
<div class="xl" style="left:215.9px">送<i style="letter-spacing:-0.99px;margin-top:-0.49px;margin-bottom:0.49px">るようにしている</i></div>
<div class="xl" style="left:250.1px"><i style="letter-spacing:0.01px;margin-top:0.01px;margin-bottom:-0.01px">体重計</i><i style="letter-spacing:0.01px;margin-top:0.01px;margin-bottom:-0.01px">を</i><i style="letter-spacing:0.01px;margin-top:0.01px;margin-bottom:-0.01px">利用</i><i style="letter-spacing:0.01px;margin-top:0.01px;margin-bottom:-0.01px">する</i></div>
<div class="xl" style="left:278.4px">飲<i style="letter-spacing:-1.05px;margin-top:-0.52px;margin-bottom:0.52px">みすぎ</i><i style="margin-top:-1.6px;margin-bottom:-1.6px">・</i>食<i style="letter-spacing:-1.05px;margin-top:-0.52px;margin-bottom:0.52px">べ</i>過<i style="letter-spacing:-1.05px;margin-top:-0.52px;margin-bottom:0.52px">ぎに</i>注意<i style="letter-spacing:-1.05px;margin-top:-0.52px;margin-bottom:0.52px">している</i></div>
<div class="xl" style="left:306.8px">太<i style="letter-spacing:-0.69px;margin-top:-0.34px;margin-bottom:0.34px">りすぎに</i>気<i style="letter-spacing:-0.69px;margin-top:-0.34px;margin-bottom:0.34px">をつける</i></div>
<div class="xl" style="left:335.1px">栄養<i style="letter-spacing:-0.90px;margin-top:-0.45px;margin-bottom:0.45px">バランスを</i>意識<i style="letter-spacing:-0.90px;margin-top:-0.45px;margin-bottom:0.45px">する</i></div>
<div class="xl" style="left:369.3px">階段<i style="letter-spacing:-0.66px;margin-top:-0.33px;margin-bottom:0.33px">を</i>使<i style="letter-spacing:-0.66px;margin-top:-0.33px;margin-bottom:0.33px">ったり</i><i style="margin-bottom:-6.2px">、</i>電車<i style="letter-spacing:-0.66px;margin-top:-0.33px;margin-bottom:0.33px">で</i>座<i style="letter-spacing:-0.66px;margin-top:-0.33px;margin-bottom:0.33px">らない</i><i style="margin-bottom:-6.2px">、</i></div>
<div class="xl" style="left:357.5px">一駅分歩<i style="letter-spacing:-0.56px;margin-top:-0.28px;margin-bottom:0.28px">くなど</i><i style="margin-bottom:-0.8px">、</i>生活<i style="letter-spacing:-0.56px;margin-top:-0.28px;margin-bottom:0.28px">の</i>中<i style="letter-spacing:-0.56px;margin-top:-0.28px;margin-bottom:0.28px">で</i>体<i style="letter-spacing:-0.56px;margin-top:-0.28px;margin-bottom:0.28px">を</i>使<i style="letter-spacing:-0.56px;margin-top:-0.28px;margin-bottom:0.28px">う</i></div>
<div class="xl" style="left:397.7px">会社<i style="letter-spacing:-0.50px;margin-top:-0.25px;margin-bottom:0.25px">の</i>健康診断<i style="letter-spacing:-0.50px;margin-top:-0.25px;margin-bottom:0.25px">や</i>市区町村<i style="letter-spacing:-0.50px;margin-top:-0.25px;margin-bottom:0.25px">で</i>実施<i style="letter-spacing:-0.50px;margin-top:-0.25px;margin-bottom:0.25px">して</i></div>
<div class="xl" style="left:385.9px"><i style="letter-spacing:-0.36px;margin-top:-0.18px;margin-bottom:0.18px">いる</i>健康診断<i style="letter-spacing:-0.36px;margin-top:-0.18px;margin-bottom:0.18px">などを</i>受<i style="letter-spacing:-0.36px;margin-top:-0.18px;margin-bottom:0.18px">ける</i></div>
<div class="xl" style="left:426.0px"><i style="letter-spacing:-1.17px;margin-top:-0.59px;margin-bottom:0.59px">ストレスを</i>溜<i style="letter-spacing:-1.17px;margin-top:-0.59px;margin-bottom:0.59px">めないよう</i><i style="margin-bottom:-4.4px">、</i></div>
<div class="xl" style="left:414.2px">自分<i style="letter-spacing:-0.68px;margin-top:-0.34px;margin-bottom:0.34px">なりのストレス</i>解消法<i style="letter-spacing:-0.68px;margin-top:-0.34px;margin-bottom:0.34px">を</i>実践<i style="letter-spacing:-0.68px;margin-top:-0.34px;margin-bottom:0.34px">する</i></div>
<div class="xl" style="left:448.4px">間食<i style="letter-spacing:-0.18px;margin-top:-0.09px;margin-bottom:0.09px">や</i>夜食<i style="letter-spacing:-0.18px;margin-top:-0.09px;margin-bottom:0.09px">を</i>控<i style="letter-spacing:-0.18px;margin-top:-0.09px;margin-bottom:0.09px">える</i></div>
<div class="xl" style="left:476.8px">塩分<i style="letter-spacing:-0.79px;margin-top:-0.39px;margin-bottom:0.39px">をなるべく</i>控<i style="letter-spacing:-0.79px;margin-top:-0.39px;margin-bottom:0.39px">える</i></div>
<div class="xl" style="left:505.1px"><i style="letter-spacing:0.05px;margin-top:0.03px;margin-bottom:-0.03px">体組成計</i><i style="margin-top:-1.6px;margin-bottom:-1.6px">・</i><i style="letter-spacing:0.05px;margin-top:0.03px;margin-bottom:-0.03px">体脂肪計</i><i style="letter-spacing:0.05px;margin-top:0.03px;margin-bottom:-0.03px">を</i><i style="letter-spacing:0.05px;margin-top:0.03px;margin-bottom:-0.03px">利用</i><i style="letter-spacing:0.05px;margin-top:0.03px;margin-bottom:-0.03px">する</i></div>
<div class="xl" style="left:539.3px"><i style="letter-spacing:0.11px;margin-top:0.06px;margin-bottom:-0.06px">健康的</i><i style="letter-spacing:0.11px;margin-top:0.06px;margin-bottom:-0.06px">な</i><i style="letter-spacing:0.11px;margin-top:0.06px;margin-bottom:-0.06px">筋肉量</i><i style="letter-spacing:0.11px;margin-top:0.06px;margin-bottom:-0.06px">を</i></div>
<div class="xl" style="left:527.5px">保<i style="letter-spacing:-0.99px;margin-top:-0.49px;margin-bottom:0.49px">つように</i>気<i style="letter-spacing:-0.99px;margin-top:-0.49px;margin-bottom:0.49px">をつける</i></div>
<div class="xl" style="left:561.8px">糖分<i style="margin-top:-6.0px">（</i>砂糖<i style="margin-bottom:-6.0px">）</i><i style="letter-spacing:-0.59px;margin-top:-0.29px;margin-bottom:0.29px">をなるべく</i>控<i style="letter-spacing:-0.59px;margin-top:-0.29px;margin-bottom:0.29px">える</i></div>
<div class="xl" style="left:596.0px">糖質<i style="margin-top:-6.0px">（</i>炭水化物<i style="margin-bottom:-6.0px">）</i><i style="letter-spacing:-0.50px;margin-top:-0.25px;margin-bottom:0.25px">をなるべく</i></div>
<div class="xl" style="left:584.2px">控<i style="letter-spacing:-0.65px;margin-top:-0.32px;margin-bottom:0.32px">える</i></div>
<div class="xl" style="left:618.4px">歩数計<i style="margin-top:-1.6px;margin-bottom:-1.6px">・</i>活動量計<i style="letter-spacing:-0.03px;margin-top:-0.02px;margin-bottom:0.02px">を</i>利用<i style="letter-spacing:-0.03px;margin-top:-0.02px;margin-bottom:0.02px">する</i></div>
<div class="xl" style="left:646.7px"><i style="letter-spacing:0.01px;margin-top:0.01px;margin-bottom:-0.01px">血圧計</i><i style="letter-spacing:0.01px;margin-top:0.01px;margin-bottom:-0.01px">を</i><i style="letter-spacing:0.01px;margin-top:0.01px;margin-bottom:-0.01px">利用</i><i style="letter-spacing:0.01px;margin-top:0.01px;margin-bottom:-0.01px">する</i></div>
<div class="xl" style="left:675.1px"><i style="letter-spacing:-1.39px;margin-top:-0.70px;margin-bottom:0.70px">ダイエットに</i>気<i style="letter-spacing:-1.39px;margin-top:-0.70px;margin-bottom:0.70px">を</i>遣<i style="letter-spacing:-1.39px;margin-top:-0.70px;margin-bottom:0.70px">っている</i></div>
<div class="t rl" style="top:456.0px"><b style="margin:0 .6px 0 -1.8px">2020</b>年全体</div>
<div class="t rn" style="top:455.6px">(2700)</div>
<div class="t c" style="left:129.0px;top:455.3px">32.1</div>
<div class="t c" style="left:157.4px;top:455.3px">31.0</div>
<div class="t c" style="left:185.7px;top:455.3px">29.5</div>
<div class="t c" style="left:214.0px;top:455.3px">28.8</div>
<div class="t c" style="left:242.4px;top:455.3px">27.9</div>
<div class="t c" style="left:270.7px;top:455.3px">27.1</div>
<div class="t c" style="left:299.0px;top:455.3px">26.6</div>
<div class="t c" style="left:327.3px;top:455.3px">25.8</div>
<div class="t c" style="left:355.7px;top:455.3px">21.9</div>
<div class="t c" style="left:384.0px;top:455.3px">20.4</div>
<div class="t c" style="left:412.3px;top:455.3px">19.4</div>
<div class="t c" style="left:440.7px;top:455.3px">19.1</div>
<div class="t c" style="left:469.0px;top:455.3px">16.7</div>
<div class="t c" style="left:497.3px;top:455.3px">15.7</div>
<div class="t c" style="left:525.6px;top:455.3px">15.5</div>
<div class="t c" style="left:554.0px;top:455.3px">15.4</div>
<div class="t c" style="left:582.3px;top:455.3px">15.4</div>
<div class="t c" style="left:610.6px;top:455.3px">14.1</div>
<div class="t c" style="left:639.0px;top:455.3px">14.1</div>
<div class="t c" style="left:667.3px;top:455.3px">11.4</div>
<div class="t rl" style="top:472.0px">男性<b style="margin:0 1.7px 0 .5px">20</b>代</div>
<div class="t rn" style="top:471.6px">(180)</div>
<div class="t c" style="left:129.0px;top:471.3px">23.3</div>
<div class="t c" style="left:157.4px;top:471.3px">22.8</div>
<div class="t c" style="left:185.7px;top:471.3px">20.3</div>
<div class="t c" style="left:214.0px;top:471.3px">19.8</div>
<div class="t c" style="left:242.4px;top:471.3px">15.2</div>
<div class="t c" style="left:270.7px;top:471.3px">18.8</div>
<div class="t c" style="left:299.0px;top:471.3px">26.2</div>
<div class="t c" style="left:327.3px;top:471.3px">20.3</div>
<div class="t c" style="left:355.7px;top:471.3px">25.2</div>
<div class="t c" style="left:384.0px;top:471.3px">15.7</div>
<div class="t c" style="left:412.3px;top:471.3px">20.7</div>
<div class="t c" style="left:440.7px;top:471.3px">13.9</div>
<div class="t c" style="left:469.0px;top:471.3px">8.0</div>
<div class="t c" style="left:497.3px;top:471.3px">12.8</div>
<div class="t c" style="left:525.6px;top:471.3px">16.8</div>
<div class="t c" style="left:554.0px;top:471.3px">10.1</div>
<div class="t c" style="left:582.3px;top:471.3px">9.5</div>
<div class="t c" style="left:610.6px;top:471.3px">8.6</div>
<div class="t c" style="left:639.0px;top:471.3px">3.9</div>
<div class="t c" style="left:667.3px;top:471.3px">13.6</div>
<div class="t rl" style="top:487.8px">男性<b style="margin:0 1.7px 0 .5px">30</b>代</div>
<div class="t rn" style="top:487.4px">(227)</div>
<div class="t c" style="left:129.0px;top:487.1px">21.6</div>
<div class="t c" style="left:157.4px;top:487.1px">27.4</div>
<div class="t c" style="left:185.7px;top:487.1px">20.5</div>
<div class="t c" style="left:214.0px;top:487.1px">25.8</div>
<div class="t c" style="left:242.4px;top:487.1px">23.9</div>
<div class="t c" style="left:270.7px;top:487.1px">26.0</div>
<div class="t c" style="left:299.0px;top:487.1px">30.5</div>
<div class="t c" style="left:327.3px;top:487.1px">19.4</div>
<div class="t c" style="left:355.7px;top:487.1px">23.1</div>
<div class="t c" style="left:384.0px;top:487.1px">14.8</div>
<div class="t c" style="left:412.3px;top:487.1px">20.9</div>
<div class="t c" style="left:440.7px;top:487.1px">14.6</div>
<div class="t c" style="left:469.0px;top:487.1px">7.7</div>
<div class="t c" style="left:497.3px;top:487.1px">13.2</div>
<div class="t c" style="left:525.6px;top:487.1px">23.0</div>
<div class="t c" style="left:554.0px;top:487.1px">9.8</div>
<div class="t c" style="left:582.3px;top:487.1px">10.2</div>
<div class="t c" style="left:610.6px;top:487.1px">9.4</div>
<div class="t c" style="left:639.0px;top:487.1px">5.0</div>
<div class="t c" style="left:667.3px;top:487.1px">14.5</div>
<div class="t rl" style="top:503.9px">男性<b style="margin:0 1.7px 0 .5px">40</b>代</div>
<div class="t rn" style="top:503.5px">(266)</div>
<div class="t c" style="left:129.0px;top:503.2px">22.8</div>
<div class="t c" style="left:157.4px;top:503.2px">32.2</div>
<div class="t c" style="left:185.7px;top:503.2px">20.2</div>
<div class="t c" style="left:214.0px;top:503.2px">25.8</div>
<div class="t c" style="left:242.4px;top:503.2px">22.4</div>
<div class="t c" style="left:270.7px;top:503.2px">26.8</div>
<div class="t c" style="left:299.0px;top:503.2px">25.2</div>
<div class="t c" style="left:327.3px;top:503.2px">17.5</div>
<div class="t c" style="left:355.7px;top:503.2px">11.8</div>
<div class="t c" style="left:384.0px;top:503.2px">14.0</div>
<div class="t c" style="left:412.3px;top:503.2px">19.3</div>
<div class="t c" style="left:440.7px;top:503.2px">18.0</div>
<div class="t c" style="left:469.0px;top:503.2px">5.7</div>
<div class="t c" style="left:497.3px;top:503.2px">9.8</div>
<div class="t c" style="left:525.6px;top:503.2px">13.9</div>
<div class="t c" style="left:554.0px;top:503.2px">10.6</div>
<div class="t c" style="left:582.3px;top:503.2px">15.0</div>
<div class="t c" style="left:610.6px;top:503.2px">10.4</div>
<div class="t c" style="left:639.0px;top:503.2px">4.4</div>
<div class="t c" style="left:667.3px;top:503.2px">14.8</div>
<div class="t rl" style="top:519.9px">男性<b style="margin:0 1.7px 0 .5px">50</b>代</div>
<div class="t rn" style="top:519.5px">(221)</div>
<div class="t c" style="left:129.0px;top:519.2px">20.3</div>
<div class="t c" style="left:157.4px;top:519.2px">24.1</div>
<div class="t c" style="left:185.7px;top:519.2px">18.9</div>
<div class="t c" style="left:214.0px;top:519.2px">21.6</div>
<div class="t c" style="left:242.4px;top:519.2px">20.1</div>
<div class="t c" style="left:270.7px;top:519.2px">25.6</div>
<div class="t c" style="left:299.0px;top:519.2px">21.4</div>
<div class="t c" style="left:327.3px;top:519.2px">14.4</div>
<div class="t c" style="left:355.7px;top:519.2px">13.7</div>
<div class="t c" style="left:384.0px;top:519.2px">16.6</div>
<div class="t c" style="left:412.3px;top:519.2px">12.8</div>
<div class="t c" style="left:440.7px;top:519.2px">17.6</div>
<div class="t c" style="left:469.0px;top:519.2px">15.2</div>
<div class="t c" style="left:497.3px;top:519.2px">13.0</div>
<div class="t c" style="left:525.6px;top:519.2px">8.9</div>
<div class="t c" style="left:554.0px;top:519.2px">10.4</div>
<div class="t c" style="left:582.3px;top:519.2px">11.8</div>
<div class="t c" style="left:610.6px;top:519.2px">15.0</div>
<div class="t c" style="left:639.0px;top:519.2px">13.6</div>
<div class="t c" style="left:667.3px;top:519.2px">6.4</div>
<div class="t rl" style="top:535.9px">男性<b style="margin:0 1.7px 0 .5px">60</b>代</div>
<div class="t rn" style="top:535.5px">(254)</div>
<div class="t c" style="left:129.0px;top:535.2px">36.3</div>
<div class="t c" style="left:157.4px;top:535.2px">30.3</div>
<div class="t c" style="left:185.7px;top:535.2px">30.0</div>
<div class="t c" style="left:214.0px;top:535.2px">27.4</div>
<div class="t c" style="left:242.4px;top:535.2px">29.6</div>
<div class="t c" style="left:270.7px;top:535.2px">27.7</div>
<div class="t c" style="left:299.0px;top:535.2px">30.6</div>
<div class="t c" style="left:327.3px;top:535.2px">23.7</div>
<div class="t c" style="left:355.7px;top:535.2px">22.9</div>
<div class="t c" style="left:384.0px;top:535.2px">31.8</div>
<div class="t c" style="left:412.3px;top:535.2px">16.1</div>
<div class="t c" style="left:440.7px;top:535.2px">20.0</div>
<div class="t c" style="left:469.0px;top:535.2px">23.7</div>
<div class="t c" style="left:497.3px;top:535.2px">19.8</div>
<div class="t c" style="left:525.6px;top:535.2px">16.8</div>
<div class="t c" style="left:554.0px;top:535.2px">17.9</div>
<div class="t c" style="left:582.3px;top:535.2px">17.2</div>
<div class="t c" style="left:610.6px;top:535.2px">22.9</div>
<div class="t c" style="left:639.0px;top:535.2px">25.7</div>
<div class="t c" style="left:667.3px;top:535.2px">6.4</div>
<div class="t rl" style="top:552.2px">男性<b style="margin:0 1.7px 0 .5px">70</b>代</div>
<div class="t rn" style="top:551.8px">(182)</div>
<div class="t c" style="left:129.0px;top:551.5px">53.0</div>
<div class="t c" style="left:157.4px;top:551.5px">35.6</div>
<div class="t c" style="left:185.7px;top:551.5px">40.8</div>
<div class="t c" style="left:214.0px;top:551.5px">33.5</div>
<div class="t c" style="left:242.4px;top:551.5px">44.7</div>
<div class="t c" style="left:270.7px;top:551.5px">39.8</div>
<div class="t c" style="left:299.0px;top:551.5px">32.0</div>
<div class="t c" style="left:327.3px;top:551.5px">28.8</div>
<div class="t c" style="left:355.7px;top:551.5px">25.6</div>
<div class="t c" style="left:384.0px;top:551.5px">30.6</div>
<div class="t c" style="left:412.3px;top:551.5px">17.4</div>
<div class="t c" style="left:440.7px;top:551.5px">29.5</div>
<div class="t c" style="left:469.0px;top:551.5px">36.8</div>
<div class="t c" style="left:497.3px;top:551.5px">26.4</div>
<div class="t c" style="left:525.6px;top:551.5px">16.0</div>
<div class="t c" style="left:554.0px;top:551.5px">30.2</div>
<div class="t c" style="left:582.3px;top:551.5px">21.5</div>
<div class="t c" style="left:610.6px;top:551.5px">38.6</div>
<div class="t c" style="left:639.0px;top:551.5px">46.2</div>
<div class="t c" style="left:667.3px;top:551.5px">4.2</div>
<div class="t rl" style="top:570.5px">女性<b style="margin:0 1.7px 0 .5px">20</b>代</div>
<div class="t rn" style="top:570.1px">(175)</div>
<div class="t c" style="left:129.0px;top:569.8px">32.9</div>
<div class="t c" style="left:157.4px;top:569.8px">38.1</div>
<div class="t c" style="left:185.7px;top:569.8px">28.9</div>
<div class="t c" style="left:214.0px;top:569.8px">24.1</div>
<div class="t c" style="left:242.4px;top:569.8px">29.4</div>
<div class="t c" style="left:270.7px;top:569.8px">28.1</div>
<div class="t c" style="left:299.0px;top:569.8px">25.0</div>
<div class="t c" style="left:327.3px;top:569.8px">25.0</div>
<div class="t c" style="left:355.7px;top:569.8px">29.3</div>
<div class="t c" style="left:384.0px;top:569.8px">12.8</div>
<div class="t c" style="left:412.3px;top:569.8px">26.8</div>
<div class="t c" style="left:440.7px;top:569.8px">14.8</div>
<div class="t c" style="left:469.0px;top:569.8px">8.5</div>
<div class="t c" style="left:497.3px;top:569.8px">15.7</div>
<div class="t c" style="left:525.6px;top:569.8px">17.8</div>
<div class="t c" style="left:554.0px;top:569.8px">8.4</div>
<div class="t c" style="left:582.3px;top:569.8px">13.9</div>
<div class="t c" style="left:610.6px;top:569.8px">10.1</div>
<div class="t c" style="left:639.0px;top:569.8px">1.7</div>
<div class="t c" style="left:667.3px;top:569.8px">24.5</div>
<div class="t rl" style="top:586.6px">女性<b style="margin:0 1.7px 0 .5px">30</b>代</div>
<div class="t rn" style="top:586.2px">(221)</div>
<div class="t c" style="left:129.0px;top:585.9px">32.6</div>
<div class="t c" style="left:157.4px;top:585.9px">32.3</div>
<div class="t c" style="left:185.7px;top:585.9px">38.1</div>
<div class="t c" style="left:214.0px;top:585.9px">33.5</div>
<div class="t c" style="left:242.4px;top:585.9px">27.0</div>
<div class="t c" style="left:270.7px;top:585.9px">25.1</div>
<div class="t c" style="left:299.0px;top:585.9px">29.7</div>
<div class="t c" style="left:327.3px;top:585.9px">28.6</div>
<div class="t c" style="left:355.7px;top:585.9px">25.3</div>
<div class="t c" style="left:384.0px;top:585.9px">22.8</div>
<div class="t c" style="left:412.3px;top:585.9px">28.4</div>
<div class="t c" style="left:440.7px;top:585.9px">16.1</div>
<div class="t c" style="left:469.0px;top:585.9px">8.3</div>
<div class="t c" style="left:497.3px;top:585.9px">10.1</div>
<div class="t c" style="left:525.6px;top:585.9px">20.6</div>
<div class="t c" style="left:554.0px;top:585.9px">15.8</div>
<div class="t c" style="left:582.3px;top:585.9px">12.9</div>
<div class="t c" style="left:610.6px;top:585.9px">9.6</div>
<div class="t c" style="left:639.0px;top:585.9px">5.3</div>
<div class="t c" style="left:667.3px;top:585.9px">18.0</div>
<div class="t rl" style="top:602.7px">女性<b style="margin:0 1.7px 0 .5px">40</b>代</div>
<div class="t rn" style="top:602.3px">(263)</div>
<div class="t c" style="left:129.0px;top:602.0px">21.7</div>
<div class="t c" style="left:157.4px;top:602.0px">22.1</div>
<div class="t c" style="left:185.7px;top:602.0px">28.8</div>
<div class="t c" style="left:214.0px;top:602.0px">16.8</div>
<div class="t c" style="left:242.4px;top:602.0px">18.5</div>
<div class="t c" style="left:270.7px;top:602.0px">21.7</div>
<div class="t c" style="left:299.0px;top:602.0px">24.4</div>
<div class="t c" style="left:327.3px;top:602.0px">21.5</div>
<div class="t c" style="left:355.7px;top:602.0px">19.3</div>
<div class="t c" style="left:384.0px;top:602.0px">17.6</div>
<div class="t c" style="left:412.3px;top:602.0px">16.5</div>
<div class="t c" style="left:440.7px;top:602.0px">13.7</div>
<div class="t c" style="left:469.0px;top:602.0px">9.3</div>
<div class="t c" style="left:497.3px;top:602.0px">10.7</div>
<div class="t c" style="left:525.6px;top:602.0px">10.9</div>
<div class="t c" style="left:554.0px;top:602.0px">13.2</div>
<div class="t c" style="left:582.3px;top:602.0px">14.6</div>
<div class="t c" style="left:610.6px;top:602.0px">6.7</div>
<div class="t c" style="left:639.0px;top:602.0px">1.9</div>
<div class="t c" style="left:667.3px;top:602.0px">15.0</div>
<div class="t rl" style="top:618.6px">女性<b style="margin:0 1.7px 0 .5px">50</b>代</div>
<div class="t rn" style="top:618.2px">(223)</div>
<div class="t c" style="left:129.0px;top:617.9px">33.9</div>
<div class="t c" style="left:157.4px;top:617.9px">31.7</div>
<div class="t c" style="left:185.7px;top:617.9px">26.6</div>
<div class="t c" style="left:214.0px;top:617.9px">30.1</div>
<div class="t c" style="left:242.4px;top:617.9px">26.9</div>
<div class="t c" style="left:270.7px;top:617.9px">25.6</div>
<div class="t c" style="left:299.0px;top:617.9px">23.8</div>
<div class="t c" style="left:327.3px;top:617.9px">25.8</div>
<div class="t c" style="left:355.7px;top:617.9px">17.9</div>
<div class="t c" style="left:384.0px;top:617.9px">19.6</div>
<div class="t c" style="left:412.3px;top:617.9px">16.2</div>
<div class="t c" style="left:440.7px;top:617.9px">17.5</div>
<div class="t c" style="left:469.0px;top:617.9px">17.8</div>
<div class="t c" style="left:497.3px;top:617.9px">12.6</div>
<div class="t c" style="left:525.6px;top:617.9px">11.0</div>
<div class="t c" style="left:554.0px;top:617.9px">12.0</div>
<div class="t c" style="left:582.3px;top:617.9px">16.9</div>
<div class="t c" style="left:610.6px;top:617.9px">7.5</div>
<div class="t c" style="left:639.0px;top:617.9px">12.8</div>
<div class="t c" style="left:667.3px;top:617.9px">8.1</div>
<div class="t rl" style="top:634.6px">女性<b style="margin:0 1.7px 0 .5px">60</b>代</div>
<div class="t rn" style="top:634.2px">(268)</div>
<div class="t c" style="left:129.0px;top:633.9px">38.9</div>
<div class="t c" style="left:157.4px;top:633.9px">35.3</div>
<div class="t c" style="left:185.7px;top:633.9px">41.6</div>
<div class="t c" style="left:214.0px;top:633.9px">39.2</div>
<div class="t c" style="left:242.4px;top:633.9px">32.5</div>
<div class="t c" style="left:270.7px;top:633.9px">25.4</div>
<div class="t c" style="left:299.0px;top:633.9px">24.0</div>
<div class="t c" style="left:327.3px;top:633.9px">34.8</div>
<div class="t c" style="left:355.7px;top:633.9px">22.1</div>
<div class="t c" style="left:384.0px;top:633.9px">19.5</div>
<div class="t c" style="left:412.3px;top:633.9px">19.0</div>
<div class="t c" style="left:440.7px;top:633.9px">23.2</div>
<div class="t c" style="left:469.0px;top:633.9px">27.7</div>
<div class="t c" style="left:497.3px;top:633.9px">22.7</div>
<div class="t c" style="left:525.6px;top:633.9px">16.0</div>
<div class="t c" style="left:554.0px;top:633.9px">18.9</div>
<div class="t c" style="left:582.3px;top:633.9px">18.6</div>
<div class="t c" style="left:610.6px;top:633.9px">12.4</div>
<div class="t c" style="left:639.0px;top:633.9px">18.6</div>
<div class="t c" style="left:667.3px;top:633.9px">8.9</div>
<div class="t rl" style="top:650.6px">女性<b style="margin:0 1.7px 0 .5px">70</b>代</div>
<div class="t rn" style="top:650.1px">(220)</div>
<div class="t c" style="left:129.0px;top:649.9px">52.3</div>
<div class="t c" style="left:157.4px;top:649.9px">42.0</div>
<div class="t c" style="left:185.7px;top:649.9px">39.0</div>
<div class="t c" style="left:214.0px;top:649.9px">46.8</div>
<div class="t c" style="left:242.4px;top:649.9px">47.3</div>
<div class="t c" style="left:270.7px;top:649.9px">37.6</div>
<div class="t c" style="left:299.0px;top:649.9px">27.2</div>
<div class="t c" style="left:327.3px;top:649.9px">50.0</div>
<div class="t c" style="left:355.7px;top:649.9px">31.9</div>
<div class="t c" style="left:384.0px;top:649.9px">29.1</div>
<div class="t c" style="left:412.3px;top:649.9px">21.4</div>
<div class="t c" style="left:440.7px;top:649.9px">30.4</div>
<div class="t c" style="left:469.0px;top:649.9px">32.6</div>
<div class="t c" style="left:497.3px;top:649.9px">23.4</div>
<div class="t c" style="left:525.6px;top:649.9px">15.9</div>
<div class="t c" style="left:554.0px;top:649.9px">28.2</div>
<div class="t c" style="left:582.3px;top:649.9px">21.5</div>
<div class="t c" style="left:610.6px;top:649.9px">22.3</div>
<div class="t c" style="left:639.0px;top:649.9px">33.3</div>
<div class="t c" style="left:667.3px;top:649.9px">3.9</div>
<div class="t n" style="left:353.6px;letter-spacing:-.8px">※全体と比較して</div>
<div class="t n" style="left:448.4px">5pt<span class="k">以上</span></div>
<div class="t n" style="left:505px">10pt<span class="k">以上</span></div>
<div class="t n" style="left:573.4px"><span class="m">-</span>5pt<span class="k">以下</span></div>
<div class="t n" style="left:643.6px"><span class="m">-</span>10pt<span class="k">以下</span></div>
</body>
</html>
